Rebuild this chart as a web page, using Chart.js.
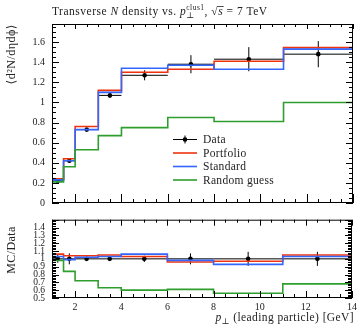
<!DOCTYPE html>
<html>
<head>
<meta charset="utf-8">
<script src="https://cdn.jsdelivr.net/npm/chart.js@4"></script>
<style>
body { margin: 0; background: #fff; }
#wrap { position: relative; width: 360px; height: 326px; }
#top { position: absolute; left: 0; top: 0; }
#bot { position: absolute; left: 0; top: 207px; }
</style>
</head>
<body>
<div id="wrap">
  <canvas id="top" width="360" height="216"></canvas>
  <canvas id="bot" width="360" height="119"></canvas>
</div>
<script>
// bins and values
const binEdges   = [1, 1.5, 2, 3, 4, 6, 8, 11, 14];
const binCenters = [1.25, 1.75, 2.5, 3.5, 5, 7, 9.5, 12.5];
const dataVals   = [0.22, 0.42, 0.73, 1.07, 1.27, 1.38, 1.43, 1.48];
const dataErr    = [0.012, 0.02, 0.015, 0.025, 0.05, 0.09, 0.12, 0.13];
const portfolio  = [0.24, 0.44, 0.76, 1.12, 1.30, 1.33, 1.41, 1.545];
const standard   = [0.23, 0.42, 0.73, 1.10, 1.34, 1.37, 1.33, 1.53];
const randomGuess = [0.21, 0.36, 0.53, 0.67, 0.75, 0.85, 0.81, 1.00];

// ratio panel (MC/Data)
const dataRatio      = [1, 1, 1, 1, 1, 1, 1, 1];
const dataRatioErr   = [0.05, 0.07, 0.02, 0.02, 0.04, 0.07, 0.09, 0.09];
const portfolioRatio = [1.06, 1.04, 1.04, 1.05, 1.03, 0.96, 0.97, 1.05];
const standardRatio  = [1.03, 0.99, 1.02, 1.03, 1.06, 0.98, 0.93, 1.03];
const randomRatio    = [0.98, 0.84, 0.72, 0.63, 0.60, 0.61, 0.56, 0.68];

// tick labels
const xTicks      = [2, 4, 6, 8, 10, 12, 14];
const yTopTicks   = [0, 0.2, 0.4, 0.6, 0.8, 1, 1.2, 1.4, 1.6];
const yRatioTicks = [0.5, 0.6, 0.7, 0.8, 0.9, 1, 1.1, 1.2, 1.3, 1.4];

const RED = '#ee3311';
const BLUE = '#3366ff';
const GREEN = '#2e9e2e';
const SERIF = '"Liberation Serif", "DejaVu Serif", serif';
const TXT = '#222';

function stepPoints(vals) {
    const pts = vals.map((v, i) => ({x: binEdges[i], y: v}));
    pts.push({x: binEdges[binEdges.length - 1], y: vals[vals.length - 1]});
    return pts;
}

// vertical error bar + horizontal bin bar, separated by gaps
function errorSegments(vals, errs) {
    const pts = [];
    vals.forEach((v, i) => {
        pts.push({x: binCenters[i], y: v - errs[i]}, {x: binCenters[i], y: v + errs[i]}, {x: binCenters[i], y: null});
        pts.push({x: binEdges[i], y: v}, {x: binEdges[i + 1], y: v}, {x: binEdges[i + 1], y: null});
    });
    return pts;
}

function histDataset(label, vals, color) {
    return {label: label, data: stepPoints(vals), stepped: true, borderColor: color,
        borderWidth: 1.6, pointRadius: 0, fill: false};
}

function dataSets(vals, errs) {
    return [
        {label: 'Data err', data: errorSegments(vals, errs), borderColor: '#000', borderWidth: 1,
            pointRadius: 0, spanGaps: false, fill: false},
        {label: 'Data', data: binCenters.map((c, i) => ({x: c, y: vals[i]})), showLine: false,
            pointRadius: 2.3, pointBackgroundColor: '#000', pointBorderWidth: 0}
    ];
}

// frame with inward ticks on all four sides
const frameTicks = {
    id: 'frameTicks',
    afterDatasetsDraw(chart, args, o) {
        const {ctx, chartArea: a, scales: {x, y}} = chart;
        ctx.save();
        ctx.strokeStyle = '#000';
        ctx.lineWidth = 1;
        ctx.strokeRect(a.left + 0.5, a.top + 0.5, a.right - a.left - 1, a.bottom - a.top - 1);
        ctx.beginPath();
        const isMajor = (v, step) => Math.abs(v / step - Math.round(v / step)) < 1e-6;
        for (let k = 0; ; k++) {
            const v = x.min + k * o.xMinor;
            if (v > x.max + 1e-9) break;
            const px = Math.round(x.getPixelForValue(v)) + 0.5;
            const mj = isMajor(v, o.xMajor);
            const lt = mj ? o.xTop[0] : o.xTop[1];
            const lb = mj ? o.xBot[0] : o.xBot[1];
            ctx.moveTo(px, a.top); ctx.lineTo(px, a.top + lt);
            ctx.moveTo(px, a.bottom); ctx.lineTo(px, a.bottom - lb);
        }
        for (let k = 0; ; k++) {
            const v = o.yStart + k * o.yMinor;
            if (v > y.max + 1e-9) break;
            if (v < y.min - 1e-9) continue;
            const py = Math.round(y.getPixelForValue(v)) + 0.5;
            const len = isMajor(v, o.yMajor) ? 7 : 4;
            ctx.moveTo(a.left, py); ctx.lineTo(a.left + len, py);
            ctx.moveTo(a.right, py); ctx.lineTo(a.right - len, py);
        }
        ctx.stroke();
        ctx.restore();
    }
};

function font(size, italic) {
    return (italic ? 'italic ' : '') + size + 'px ' + SERIF;
}

// title, y label and legend of the main panel
const topText = {
    id: 'topText',
    afterDraw(chart) {
        const ctx = chart.ctx;
        ctx.save();
        ctx.fillStyle = TXT;
        ctx.textBaseline = 'alphabetic';
        ctx.textAlign = 'left';
        ctx.letterSpacing = '0.5px';
        let x = 52;
        const b = 15;
        const put = (t, size, italic, dy) => {
            ctx.font = font(size, italic);
            ctx.fillText(t, x, b + (dy || 0));
            return ctx.measureText(t).width;
        };
        x += put('Transverse ', 11.5);
        x += put('N', 11.5, true);
        x += put(' density vs. ', 11.5);
        x += put('p', 11.5, true);
        const w1 = put('clus1', 7.5, false, -5);
        const w2 = put('\u22a5', 8.5, false, 2.5);
        x += Math.max(w1, w2);
        x += put(', ', 11.5);
        const wr = put('\u221a', 11.5);
        x += wr;
        const ws = put('s', 11.5, true);
        ctx.fillRect(x - 1, b - 9, ws + 1.5, 0.8);
        x += ws;
        put(' = 7 TeV', 11.5);

        // y axis title
        ctx.save();
        ctx.translate(12, 24);
        ctx.rotate(-Math.PI / 2);
        ctx.textAlign = 'right';
        ctx.textBaseline = 'middle';
        ctx.font = font(12);
        ctx.fillText('\u27e8d\u00b2N/d\u03b7d\u03d5\u27e9', 0, 0);
        ctx.restore();

        // legend
        const rows = [
            {t: 'Data', c: '#000', y: 139.5},
            {t: 'Portfolio', c: RED, y: 153},
            {t: 'Standard', c: BLUE, y: 166.5},
            {t: 'Random guess', c: GREEN, y: 180}
        ];
        ctx.font = font(11.5);
        ctx.letterSpacing = '0.3px';
        ctx.textBaseline = 'middle';
        rows.forEach((r, i) => {
            ctx.strokeStyle = r.c;
            ctx.lineWidth = i === 0 ? 1 : 1.6;
            ctx.beginPath();
            ctx.moveTo(173, r.y); ctx.lineTo(197, r.y);
            if (i === 0) { ctx.moveTo(185, r.y - 4); ctx.lineTo(185, r.y + 4); }
            ctx.stroke();
            if (i === 0) {
                ctx.fillStyle = '#000';
                ctx.beginPath(); ctx.arc(185, r.y, 2.3, 0, Math.PI * 2); ctx.fill();
            }
            ctx.fillStyle = TXT;
            ctx.fillText(r.t, 203, r.y + 0.5);
        });
        ctx.restore();
    }
};

// ratio panel labels
const botText = {
    id: 'botText',
    afterDraw(chart) {
        const ctx = chart.ctx;
        ctx.save();
        ctx.fillStyle = TXT;
        ctx.letterSpacing = '0.4px';
        ctx.save();
        ctx.translate(12, 43);
        ctx.rotate(-Math.PI / 2);
        ctx.textAlign = 'center';
        ctx.textBaseline = 'middle';
        ctx.font = font(12);
        ctx.fillText('MC/Data', 0, 0);
        ctx.restore();

        // x axis title, right aligned
        ctx.textBaseline = 'alphabetic';
        ctx.textAlign = 'left';
        const b = 114;
        ctx.font = font(11.5);
        const rest = ' (leading particle) [GeV]';
        const wRest = ctx.measureText(rest).width;
        ctx.font = font(11.5, true);
        const wp = ctx.measureText('p').width;
        ctx.font = font(8.5);
        const wperp = ctx.measureText('\u22a5').width;
        let x = 354 - wRest - wperp - wp;
        ctx.font = font(11.5, true);
        ctx.fillText('p', x, b);
        x += wp;
        ctx.font = font(8.5);
        ctx.fillText('\u22a5', x, b + 2.5);
        x += wperp;
        ctx.font = font(11.5);
        ctx.fillText(rest, x, b);
        ctx.restore();
    }
};

const tickFont = {family: SERIF, size: 10};
const ratioTickFont = {family: SERIF, size: 9.5};

new Chart(document.getElementById('top'), {
    type: 'line',
    data: {
        datasets: [
            histDataset('Random guess', randomGuess, GREEN),
            histDataset('Standard', standard, BLUE),
            histDataset('Portfolio', portfolio, RED),
            ...dataSets(dataVals, dataErr)
        ]
    },
    options: {
        responsive: false,
        animation: false,
        layout: {padding: {top: 24, right: 7, bottom: 9, left: 0}},
        plugins: {
            legend: {display: false},
            tooltip: {enabled: false},
            frameTicks: {xMinor: 0.5, xMajor: 2, xTop: [5, 3], xBot: [9, 4], yStart: 0, yMinor: 0.05, yMajor: 0.2}
        },
        scales: {
            x: {type: 'linear', min: 1, max: 14, display: false},
            y: {
                min: 0, max: 1.78,
                grid: {display: false, drawTicks: false},
                border: {display: false},
                afterFit: s => { s.width = 52; },
                afterBuildTicks: s => { s.ticks = yTopTicks.map(v => ({value: v})); },
                ticks: {padding: 7, font: tickFont, color: TXT, autoSkip: false, callback: v => String(v)}
            }
        }
    },
    plugins: [frameTicks, topText]
});

new Chart(document.getElementById('bot'), {
    type: 'line',
    data: {
        datasets: [
            histDataset('Random guess', randomRatio, GREEN),
            histDataset('Standard', standardRatio, BLUE),
            histDataset('Portfolio', portfolioRatio, RED),
            ...dataSets(dataRatio, dataRatioErr)
        ]
    },
    options: {
        responsive: false,
        animation: false,
        layout: {padding: {top: 0, right: 7, bottom: 0, left: 0}},
        plugins: {
            legend: {display: false},
            tooltip: {enabled: false},
            frameTicks: {xMinor: 0.5, xMajor: 2, xTop: [6, 3], xBot: [7, 4], yStart: 0.5, yMinor: 0.02, yMajor: 0.1}
        },
        scales: {
            x: {
                type: 'linear', min: 1, max: 14,
                grid: {display: false, drawTicks: false},
                border: {display: false},
                afterFit: s => { s.height = 28; },
                afterBuildTicks: s => { s.ticks = xTicks.map(v => ({value: v})); },
                ticks: {padding: 3, font: tickFont, color: TXT, maxRotation: 0, autoSkip: false, callback: v => String(v)}
            },
            y: {
                min: 0.5, max: 1.5,
                grid: {display: false, drawTicks: false},
                border: {display: false},
                afterFit: s => { s.width = 52; },
                afterBuildTicks: s => { s.ticks = yRatioTicks.map(v => ({value: v})); },
                ticks: {padding: 7, font: ratioTickFont, color: TXT, autoSkip: false, callback: v => String(v)}
            }
        }
    },
    plugins: [frameTicks, botText]
});
</script>
</body>
</html>
